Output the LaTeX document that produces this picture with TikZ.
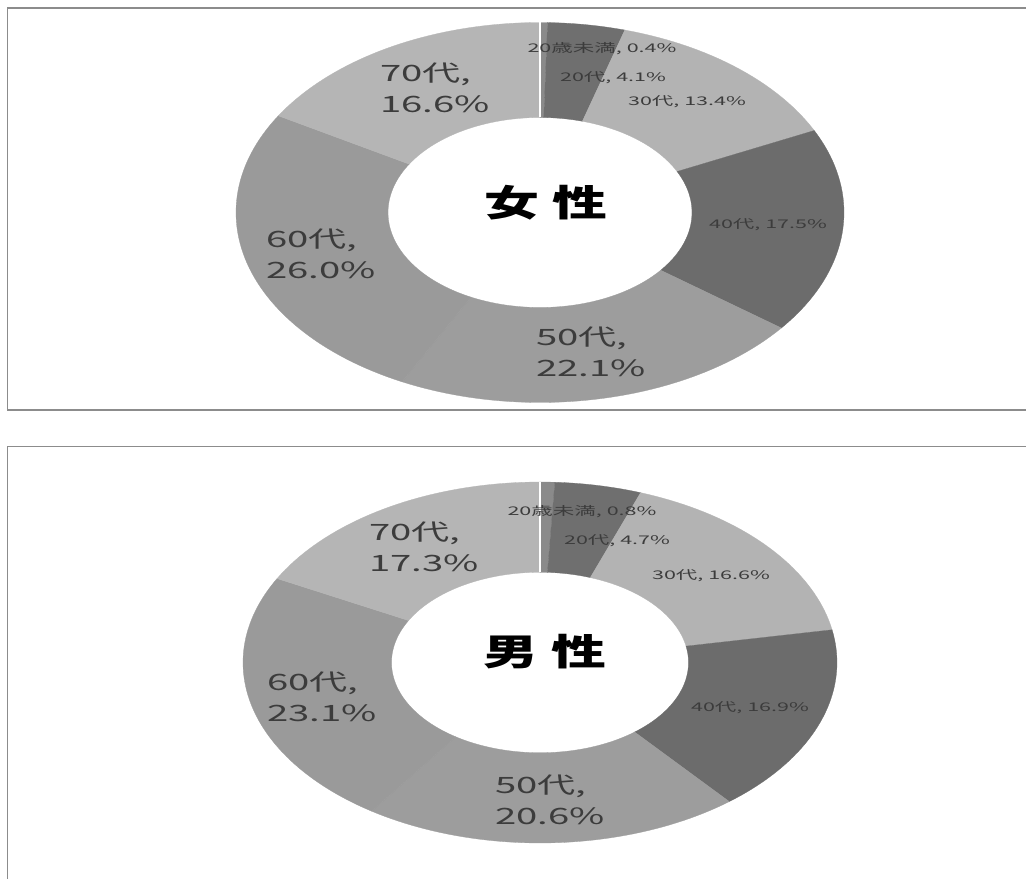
\documentclass[tikz,border=0pt]{standalone}
\usepackage{fontspec}
\newfontfamily\jp{Noto Sans CJK JP}
\definecolor{frameline}{HTML}{8C8C8C}
\definecolor{labeltext}{HTML}{3C3C3C}
\definecolor{cunder}{HTML}{8A8A8A}
\definecolor{ctwenty}{HTML}{6F6F6F}
\definecolor{cthirty}{HTML}{B3B3B3}
\definecolor{cforty}{HTML}{6C6C6C}
\definecolor{cfifty}{HTML}{9D9D9D}
\definecolor{csixty}{HTML}{9A9A9A}
\definecolor{cseventy}{HTML}{B5B5B5}

\begin{document}
\begin{tikzpicture}[x=0.025cm, y=-0.025cm,
    frame/.style={draw=frameline, line width=1pt},
    slice/.style={draw, line width=0.2pt},
    big/.style={font=\jp\fontsize{16}{22}\selectfont, text=labeltext, align=left, xscale=1.7},
    small/.style={font=\jp\fontsize{8.5}{10}\selectfont, text=labeltext, xscale=1.8},
    title/.style={font=\jp\bfseries\fontsize{26}{30}\selectfont, text=black, xscale=1.5}]
    \fill[white] (0,0) rectangle (1026,879);
    \useasboundingbox (0,0) rectangle (1026,879);

    \draw[frame] (1026,8) -- (7.5,8) -- (7.5,410) -- (1026,410);
    \draw[frame] (1026,446.5) -- (7.5,446.5) -- (7.5,879);

    \begin{scope}[shift={(540,212.5)}, xscale=304, yscale=190]
        \filldraw[slice, cunder] plot[domain=-90:-88.56, samples=3] (\x:1) -- plot[domain=-88.56:-90, samples=3] (\x:0.5) -- cycle;
        \filldraw[slice, ctwenty] plot[domain=-88.56:-73.8, samples=10] (\x:1) -- plot[domain=-73.8:-88.56, samples=10] (\x:0.5) -- cycle;
        \filldraw[slice, cthirty] plot[domain=-73.8:-25.56, samples=30] (\x:1) -- plot[domain=-25.56:-73.8, samples=30] (\x:0.5) -- cycle;
        \filldraw[slice, cforty] plot[domain=-25.56:37.44, samples=40] (\x:1) -- plot[domain=37.44:-25.56, samples=40] (\x:0.5) -- cycle;
        \filldraw[slice, cfifty] plot[domain=37.44:117, samples=50] (\x:1) -- plot[domain=117:37.44, samples=50] (\x:0.5) -- cycle;
        \filldraw[slice, csixty] plot[domain=117:210.6, samples=60] (\x:1) -- plot[domain=210.6:117, samples=60] (\x:0.5) -- cycle;
        \filldraw[slice, cseventy] plot[domain=210.6:270, samples=40] (\x:1) -- plot[domain=270:210.6, samples=40] (\x:0.5) -- cycle;
        \draw[white, line width=0.8pt] (-90:0.5) -- (-90:1);
    \end{scope}

    \begin{scope}[shift={(540,662.5)}, xscale=297, yscale=180.5]
        \filldraw[slice, cunder] plot[domain=-90:-87.12, samples=3] (\x:1) -- plot[domain=-87.12:-90, samples=3] (\x:0.5) -- cycle;
        \filldraw[slice, ctwenty] plot[domain=-87.12:-70.2, samples=10] (\x:1) -- plot[domain=-70.2:-87.12, samples=10] (\x:0.5) -- cycle;
        \filldraw[slice, cthirty] plot[domain=-70.2:-10.44, samples=40] (\x:1) -- plot[domain=-10.44:-70.2, samples=40] (\x:0.5) -- cycle;
        \filldraw[slice, cforty] plot[domain=-10.44:50.4, samples=40] (\x:1) -- plot[domain=50.4:-10.44, samples=40] (\x:0.5) -- cycle;
        \filldraw[slice, cfifty] plot[domain=50.4:124.56, samples=50] (\x:1) -- plot[domain=124.56:50.4, samples=50] (\x:0.5) -- cycle;
        \filldraw[slice, csixty] plot[domain=124.56:207.72, samples=60] (\x:1) -- plot[domain=207.72:124.56, samples=60] (\x:0.5) -- cycle;
        \filldraw[slice, cseventy] plot[domain=207.72:270, samples=40] (\x:1) -- plot[domain=270:207.72, samples=40] (\x:0.5) -- cycle;
        \draw[white, line width=0.8pt] (-90:0.5) -- (-90:1);
    \end{scope}

    \node[title] at (546, 203)(wtitle){女\hspace{0.25em}性};
    \node[small] at (602, 49)(wunder){20歳未満, 0.4\%};
    \node[small] at (613, 78)(wtwenty){20代, 4.1\%};
    \node[small] at (687, 102)(wthirty){30代, 13.4\%};
    \node[small] at (768, 225)(wforty){40代, 17.5\%};
    \node[big] at (591, 352)(wfifty){50代,\\22.1\%};
    \node[big] at (321, 254)(wsixty){60代,\\26.0\%};
    \node[big] at (435, 88)(wseventy){70代,\\16.6\%};

    \node[title] at (545, 652)(mtitle){男\hspace{0.25em}性};
    \node[small] at (582, 512)(munder){20歳未満, 0.8\%};
    \node[small] at (617, 541)(mtwenty){20代, 4.7\%};
    \node[small] at (711, 576)(mthirty){30代, 16.6\%};
    \node[small] at (750, 708)(mforty){40代, 16.9\%};
    \node[big] at (550, 800)(mfifty){50代,\\20.6\%};
    \node[big] at (322, 697)(msixty){60代,\\23.1\%};
    \node[big] at (424, 547)(mseventy){70代,\\17.3\%};
\end{tikzpicture}
\end{document}
